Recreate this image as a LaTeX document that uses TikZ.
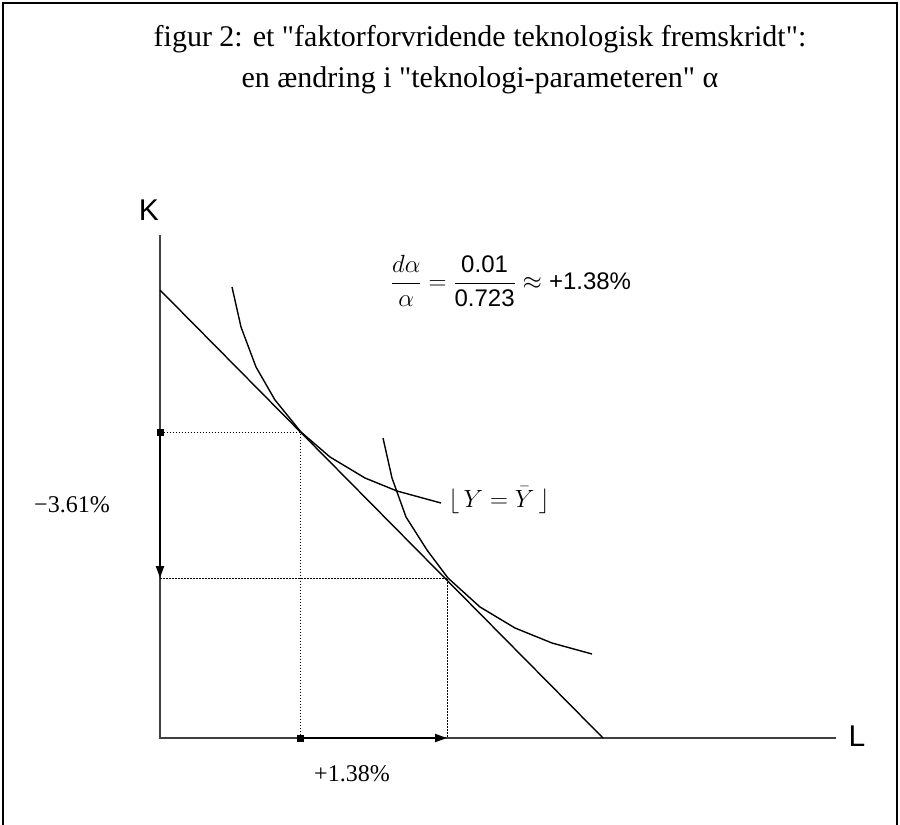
\documentclass[tikz,border=0pt]{standalone}
\usepackage{fontspec}
\setmainfont{Liberation Serif}[Ligatures=TeXOff]
\newfontfamily\axisfont{Liberation Sans}
\usetikzlibrary{arrows.meta}

\begin{document}
\begin{tikzpicture}[x=1pt, y=-1pt, >={Triangle[length=12pt, width=8pt]},
    kaxis/.style={draw=black!75, line width=2pt},
    isocurve/.style={line width=1.4pt, line join=round},
    guide/.style={line width=1pt, dash pattern=on 1.5pt off 1.5pt},
    dmove/.style={->, line width=2pt},
    sqmark/.style={fill, minimum size=7pt, inner sep=0pt},
    lbl/.style={font=\fontsize{24}{28}\selectfont, inner sep=0pt}]
  \useasboundingbox (0,0) rectangle (900,825);

  % ---------------- frame and title ----------------
  \draw[line width=2pt] (3,825) -- (3,3) -- (897,3) -- (897,825);
  \node[font=\fontsize{30}{41}\selectfont, align=center] (title) at (480,60)
    {figur 2: et "faktorforvridende teknologisk fremskridt":\\
     en ændring i "teknologi-parameteren" α};

  % ---------------- axes ----------------
  \coordinate (O) at (160,738);
  \coordinate (Ktop) at (160,235);
  \coordinate (Lend) at (836,738);
  \draw[kaxis] (Ktop) -- (O) -- (Lend);
  \node[font=\axisfont\fontsize{30}{32}\selectfont, inner sep=0pt] (kLab) at (149,210) {K};
  \node[font=\axisfont\fontsize{30}{32}\selectfont, inner sep=0pt] (lLab) at (857,736) {L};

  % ---------------- budget line and isoquants ----------------
  \coordinate (bTop) at (160,290);
  \coordinate (bEnd) at (603,738);
  \draw[isocurve] (bTop) -- (bEnd);
  \draw[isocurve] (232,287) -- (241,327) -- (256,367) -- (275,400) -- (301,432)
    -- (330,457) -- (365,478) -- (397,491) -- (441,503);
  \draw[isocurve] (383,438) -- (392,478) -- (406,517) -- (427,550) -- (448,578)
    -- (480,607) -- (515,628) -- (552,643) -- (592,654);

  % ---------------- tangent points ----------------
  \coordinate (A) at (300,432);
  \coordinate (B) at (447,578);
  \node[sqmark] (Ak) at (160,432) {};
  \node[sqmark] (Al) at (300,738) {};
  \coordinate (Bk) at (160,578);
  \coordinate (Bl) at (447,738);
  \draw[guide] (Ak) -- (A) -- (Al);
  \draw[guide] (Bk) -- (B) -- (Bl);
  \draw[dmove] (Ak.center) -- (Bk);
  \draw[dmove] (Al.center) -- (Bl);

  % ---------------- labels ----------------
  \node[lbl] (eqLab) at (511,281)
    {$\displaystyle\frac{d\alpha}{\alpha} = \frac{\mbox{\axisfont 0.01}}{\mbox{\axisfont 0.723}}
     \approx \mbox{\axisfont +1.38\%}$};
  \node[lbl, font=\fontsize{26}{30}\selectfont] (isoLab) at (499,500)
    {$\Big\lfloor\, Y = \bar{Y}\, \Big\rfloor$};
  \node[lbl] (dkLab) at (72,505) {−3.61\%};
  \node[lbl] (dlLab) at (352,774) {+1.38\%};
\end{tikzpicture}
\end{document}
